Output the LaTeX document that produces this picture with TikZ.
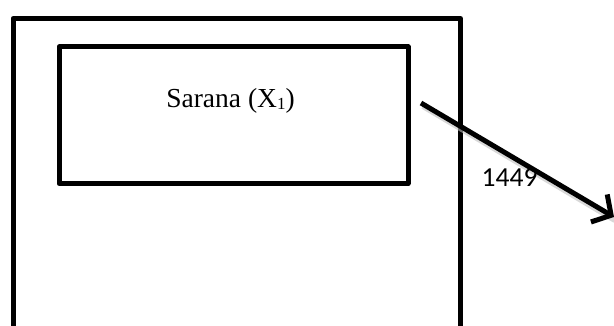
\documentclass[tikz,border=0pt]{standalone}
\usepackage{fontspec}
\setmainfont{Liberation Serif}
\newfontfamily\calfont{Carlito}
\usetikzlibrary{arrows.meta}
\begin{document}
\begin{tikzpicture}[x=1pt,y=-1pt,
  frame/.style={draw=black,line width=5pt,line join=round},
  conn/.style={line width=5pt,-{Straight Barb[length=14pt,width=32pt,line width=5pt]}},
  shadowline/.style={line width=6pt,draw=black!25,opacity=0.6}]
\useasboundingbox (0,0) rectangle (614,326);
\clip (0,0) rectangle (614,326);
\fill[white] (0,0) rectangle (614,326);
% outer frame
\node[frame,inner sep=0pt,minimum width=447.5pt,minimum height=330pt,anchor=north west] (outer) at (10.5,16) {};
% inner box
\node[frame,inner sep=0pt,minimum width=349pt,minimum height=136.5pt,anchor=north west] (box) at (56.5,44.5) {};
\node[anchor=base,inner sep=0pt] (lbl) at (230.5,108) {\fontsize{27.5}{32}\selectfont Sarana (X\raisebox{-1.5pt}{\fontsize{17}{17}\selectfont 1})};
\coordinate (s) at (421,103);
\coordinate (t) at (614,217);
\draw[shadowline] ([shift={(2,3)}]s) -- ([shift={(1,3)}]t);
\draw[conn] (s) -- (t);
\node[anchor=base west,inner sep=0pt] (num) at (481.5,187) {\calfont\fontsize{27.5}{32}\selectfont 1449};
\end{tikzpicture}
\end{document}
